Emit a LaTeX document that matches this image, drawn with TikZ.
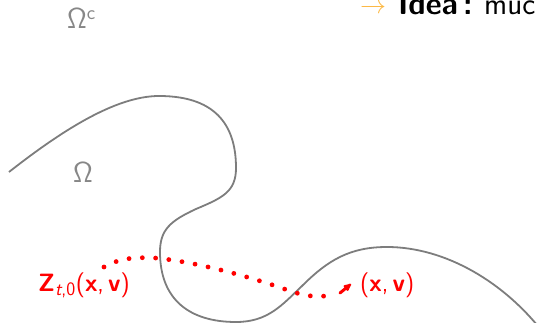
\documentclass[tikz,border=0pt]{standalone}
\usepackage{fontspec}
\usepackage{graphicx}
\usetikzlibrary{arrows.meta}
\definecolor{curvegray}{RGB}{125,125,125}
\definecolor{labelgray}{RGB}{135,135,135}
\definecolor{ideaorange}{RGB}{252,185,70}
\tikzset{
  labeltext/.style={font=\sffamily\fontsize{25}{28}\selectfont, inner sep=0pt},
  omegatext/.style={font=\sffamily\fontsize{29}{32}\selectfont, inner sep=0pt, text=labelgray},
  ideatext/.style={font=\sffamily\fontsize{31}{34}\selectfont, inner sep=0pt, anchor=base west},
  boundary/.style={draw=curvegray, line width=1.8pt},
  trajectory/.style={draw=red, line width=4.8pt, line cap=round, dash pattern=on 0pt off 13.3pt},
}
\begin{document}
\begin{tikzpicture}[x=1pt,y=-1pt]
\useasboundingbox (0,0) rectangle (537,323);
% labels
\node[omegatext, anchor=base west] (omegac) at (67,29) {Ω\textsuperscript{\fontsize{20}{20}\selectfont c}};
\node[omegatext, anchor=base west] (omega) at (73,182) {Ω};
\node[inner sep=0pt, text=ideaorange, anchor=center] (ideaarrow) at (373,9) {\resizebox{26pt}{!}{$\rightarrow$}};
\node[ideatext] (ideaword) at (398,15) {\textbf{Idea}};
\node[ideatext] (ideacolon) at (463,15) {\textbf{:}};
\node[ideatext] (ideamuch) at (484,15) {much};
% boundary
\draw[boundary] (9,172) .. controls (60,132) and (115,96) .. (159,96)
  .. controls (220,96) and (236,130) .. (236,168)
  .. controls (236,192) and (222,198) .. (196,209)
  .. controls (170,221) and (160,230) .. (160,252)
  .. controls (160,300) and (190,322) .. (236,322)
  .. controls (268,322) and (282,305) .. (302,286)
  .. controls (328,260) and (350,247) .. (387,247)
  .. controls (445,247) and (505,282) .. (545,335);
% trajectory
\coordinate (start) at (104,267);
\coordinate (top) at (155,258);
\coordinate (low) at (290,291);
\coordinate (tail) at (340,293);
\coordinate (end) at (351,284);
\draw[trajectory] (start) .. controls (120,258) and (135,257) .. (top)
  .. controls (200,262) and (260,280) .. (low)
  .. controls (305,296) and (318,298) .. (331,295);
\draw[red, line width=3pt, line cap=round, -{Latex[length=10pt,width=8.5pt,round]}] (tail) -- (end);
\node[labeltext, text=red, anchor=base west] (zlabel) at (38,291) {\textbf{Z}\textsubscript{\fontsize{19}{19}\selectfont\itshape t\upshape,0}(\textbf{x},\,\textbf{v})};
\node[labeltext, text=red, anchor=base west] (xvlabel) at (360,291) {(\textbf{x},\,\textbf{v})};
\end{tikzpicture}
\end{document}
